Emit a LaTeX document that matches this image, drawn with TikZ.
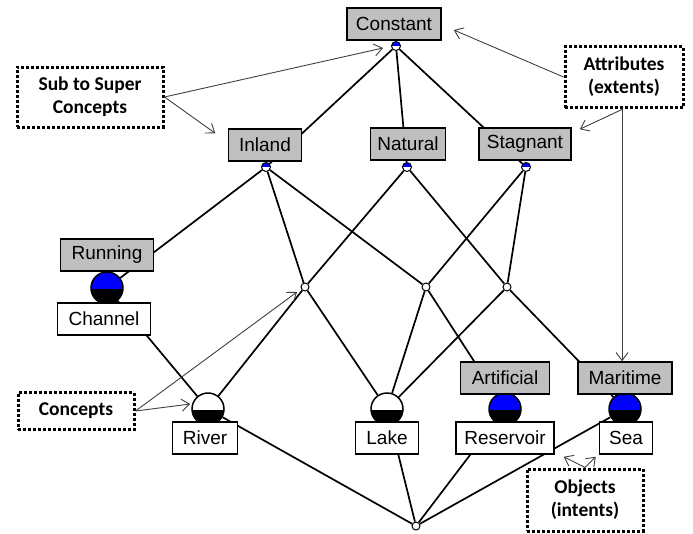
\documentclass[tikz,border=0pt]{standalone}
\usepackage{fontspec}
\setmainfont{Liberation Sans}
\newfontfamily\callfont{Carlito}
\usetikzlibrary{arrows.meta,backgrounds}
\begin{document}
\begin{tikzpicture}[x=1pt,y=1pt,
  lbl/.style={draw, line width=1.5pt, minimum height=32pt, inner xsep=0pt, inner ysep=0pt, font=\fontsize{19}{20}\selectfont},
  attr/.style={lbl, fill=gray!50},
  obj/.style={lbl, fill=white},
  big/.style={circle, draw, line width=1.5pt, minimum size=32pt, inner sep=0pt,
    path picture={\fill[black] ([yshift=-1pt]path picture bounding box.west) rectangle (path picture bounding box.south east);}},
  bigblue/.style={big, fill=blue},
  bigwhite/.style={big, fill=white},
  sattr/.style={circle, draw, line width=1pt, minimum size=9pt, inner sep=0pt, fill=white,
    path picture={\fill[blue] (path picture bounding box.west) rectangle (path picture bounding box.north east);}},
  smallc/.style={circle, draw, line width=1pt, minimum size=8pt, inner sep=0pt, fill=white},
  edge/.style={line width=1.7pt},
  call/.style={draw, line width=3pt, dash pattern=on 3pt off 2pt, align=center, fill=white,
    font=\callfont\bfseries\fontsize{19.5}{23}\selectfont},
  pointer/.style={line width=0.9pt, draw=black!75, -{Straight Barb[length=8pt,width=12pt]}}
]
\useasboundingbox (0,0) rectangle (693,-533);

% concept circles
\node[sattr] (cTop) at (396,-46) {};
\node[sattr] (cIn) at (266,-167) {};
\node[sattr] (cNat) at (407,-167) {};
\node[sattr] (cStag) at (526,-167) {};
\node[bigblue] (cRun) at (107,-288) {};
\node[smallc] (m1) at (305,-287) {};
\node[smallc] (m2) at (426,-287) {};
\node[smallc] (m3) at (507,-287) {};
\node[bigwhite] (cRiver) at (208,-409) {};
\node[bigwhite] (cLake) at (387,-409) {};
\node[bigblue] (cArt) at (505,-409) {};
\node[bigblue] (cMar) at (625,-409) {};
\node[smallc] (bot) at (416,-526) {};

% labels
\node[attr, minimum width=94pt] (lConst) at (394,-24) {Constant};
\node[attr, minimum width=73pt] (lInland) at (265,-145) {Inland};
\node[attr, minimum width=75pt] (lNat) at (408,-144) {Natural};
\node[attr, minimum width=92pt] (lStag) at (525,-144) {Stagnant};
\node[attr, minimum width=93pt] (lRun) at (107,-255) {Running};
\node[attr, minimum width=89pt] (lArt) at (505,-378) {Artificial};
\node[attr, minimum width=94pt] (lMar) at (625,-378) {Maritime};
\node[obj, minimum width=93pt] (lChan) at (104,-319) {Channel};
\node[obj, minimum width=65pt] (lRiver) at (205,-438) {River};
\node[obj, minimum width=63pt] (lLake) at (387,-438) {Lake};
\node[obj, minimum width=98pt] (lRes) at (505,-438) {Reservoir};
\node[obj, minimum width=53pt] (lSea) at (626,-438) {Sea};

% lattice edges
\begin{scope}[on background layer]
\draw[edge] (cTop) -- (cIn);
\draw[edge] (cTop) -- (cNat);
\draw[edge] (cTop) -- (cStag);
\draw[edge] (cIn) -- (cRun);
\draw[edge] (cIn) -- (m1);
\draw[edge] (cIn) -- (m2);
\draw[edge] (cNat) -- (m1);
\draw[edge] (cNat) -- (m3);
\draw[edge] (cStag) -- (m2);
\draw[edge] (cStag) -- (m3);
\draw[edge] (cRun) -- (cRiver);
\draw[edge] (m1) -- (cRiver);
\draw[edge] (m1) -- (cLake);
\draw[edge] (m2) -- (cLake);
\draw[edge] (m2) -- (cArt);
\draw[edge] (m3) -- (cLake);
\draw[edge] (m3) -- (cMar);
\draw[edge] (cRiver) -- (bot);
\draw[edge] (cLake) -- (bot);
\draw[edge] (cArt) -- (bot);
\draw[edge] (cMar) -- (bot);
\end{scope}

% callouts
\node[call, minimum width=146pt, minimum height=60pt] (sub) at (90,-97) {Sub to Super\\Concepts};
\node[call, minimum width=118pt, minimum height=61pt] (attrs) at (624,-77) {Attributes\\(extents)};
\node[call, minimum width=116pt, minimum height=37pt] (conc) at (76,-411) {Concepts};
\node[call, minimum width=116pt, minimum height=62pt] (objs) at (585,-500) {Objects\\(intents)};

% pointers
\draw[pointer] (sub.east) -- ([shift={(-8pt,-2pt)}]cTop.west);
\draw[pointer] (sub.east) -- ([shift={(-12.5pt,-5pt)}]lInland.north west);
\draw[pointer] (attrs.west) -- ([shift={(12pt,-6pt)}]lConst.east);
\draw[pointer] ([xshift=-1pt]attrs.south) -- ([shift={(8pt,-2pt)}]lStag.north east);
\draw[pointer] ([xshift=-2pt]attrs.south) -- ([xshift=-3pt]lMar.north);
\draw[pointer] (conc.east) -- ([shift={(-1pt,5pt)}]cRiver.west);
\draw[pointer] (conc.east) -- ([shift={(-8pt,-5pt)}]m1.center);
\draw[pointer] (objs.north) -- ([shift={(9pt,-2pt)}]lRes.south east);
\draw[pointer] (objs.north) -- ([shift={(-3pt,-2pt)}]lSea.south west);
\end{tikzpicture}
\end{document}
